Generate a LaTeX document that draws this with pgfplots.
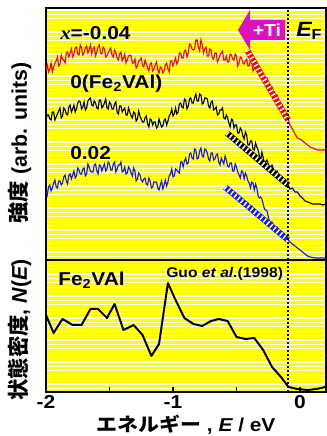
\documentclass[border=0pt]{standalone}
\usepackage{fontspec}
\setmainfont{Liberation Sans}[FakeStretch=1.12]
\newfontfamily\jp{Noto Sans CJK JP}[FakeStretch=1.12]
\newfontfamily\jprot{Noto Sans CJK JP}
\newfontfamily\sfrot{Liberation Sans}
\newfontfamily\tms{Liberation Serif}[FakeStretch=1.12]
\usepackage{pgfplots}
\pgfplotsset{compat=1.18}
\usepackage{pgfplotstable}

\definecolor{tiMag}{RGB}{221,17,190}
\definecolor{bandY}{RGB}{255,255,0}
\definecolor{specRed}{RGB}{255,0,0}
\definecolor{specBlue}{RGB}{20,20,255}

% photoemission spectra, x = -0.04
\pgfplotstableread{
E I
-2.00 189
-1.99 195
-1.98 188
-1.97 191
-1.96 197
-1.95 188
-1.94 193
-1.93 197
-1.92 199
-1.91 203
-1.90 194
-1.89 196
-1.88 205
-1.87 201
-1.86 200
-1.85 197
-1.84 207
-1.83 208
-1.82 203
-1.81 207
-1.80 211
-1.79 203
-1.78 206
-1.77 212
-1.76 213
-1.75 206
-1.74 205
-1.73 215
-1.72 212
-1.71 205
-1.70 207
-1.69 212
-1.68 214
-1.67 207
-1.66 210
-1.65 215
-1.64 206
-1.63 211
-1.62 213
-1.61 204
-1.60 208
-1.59 213
-1.58 215
-1.57 207
-1.56 206
-1.55 213
-1.54 211
-1.53 203
-1.52 204
-1.51 207
-1.50 210
-1.49 212
-1.48 205
-1.47 203
-1.46 210
-1.45 207
-1.44 202
-1.43 200
-1.42 206
-1.41 208
-1.40 199
-1.39 202
-1.38 206
-1.37 197
-1.36 200
-1.35 204
-1.34 205
-1.33 204
-1.32 197
-1.31 197
-1.30 201
-1.29 192
-1.28 194
-1.27 199
-1.26 200
-1.25 202
-1.24 195
-1.23 193
-1.22 200
-1.21 196
-1.20 192
-1.19 189
-1.18 196
-1.17 197
-1.16 189
-1.15 191
-1.14 195
-1.13 198
-1.12 190
-1.11 187
-1.10 193
-1.09 192
-1.08 187
-1.07 189
-1.06 195
-1.05 197
-1.04 191
-1.03 188
-1.02 199
-1.01 199
-1.00 194
-0.99 198
-0.98 202
-0.97 196
-0.96 199
-0.95 207
-0.94 207
-0.93 202
-0.92 202
-0.91 209
-0.90 210
-0.89 203
-0.88 207
-0.87 216
-0.86 215
-0.85 211
-0.84 210
-0.83 211
-0.82 220
-0.81 220
-0.80 213
-0.79 209
-0.78 220
-0.77 215
-0.76 207
-0.75 211
-0.74 213
-0.73 204
-0.72 204
-0.71 211
-0.70 210
-0.69 202
-0.68 201
-0.67 207
-0.66 207
-0.65 198
-0.64 201
-0.63 205
-0.62 207
-0.61 209
-0.60 200
-0.59 200
-0.58 204
-0.57 198
-0.56 198
-0.55 206
-0.54 205
-0.53 201
-0.52 200
-0.51 206
-0.50 204
-0.49 194
-0.48 197
-0.47 203
-0.46 202
-0.45 197
-0.44 196
-0.43 199
-0.42 201
-0.41 194
-0.40 194
-0.39 200
-0.38 197
-0.37 189
-0.36 192
-0.35 195
-0.34 195
-0.33 194
-0.32 187
-0.31 184
-0.30 188
-0.28 181
-0.26 182
-0.24 173
-0.22 173
-0.20 165
-0.18 165
-0.16 156
-0.14 155
-0.12 146
-0.10 144
-0.08 135
-0.06 131
-0.04 126
-0.02 122
0.00 121
0.02 119
0.04 117
0.06 115
0.08 113
0.10 112
0.12 111
0.14 110
0.16 110
0.18 110
0.20 110
}\specA

% x = 0 (Fe2VAl)
\pgfplotstableread{
E I
-2.00 141
-1.99 145
-1.98 145
-1.97 141
-1.96 140
-1.95 148
-1.94 148
-1.93 140
-1.92 143
-1.91 146
-1.90 149
-1.89 152
-1.88 142
-1.87 144
-1.86 152
-1.85 150
-1.84 146
-1.83 145
-1.82 153
-1.81 155
-1.80 148
-1.79 151
-1.78 155
-1.77 148
-1.76 151
-1.75 157
-1.74 159
-1.73 158
-1.72 151
-1.71 153
-1.70 158
-1.69 150
-1.68 152
-1.67 159
-1.66 161
-1.65 162
-1.64 155
-1.63 154
-1.62 159
-1.61 157
-1.60 152
-1.59 151
-1.58 160
-1.57 160
-1.56 152
-1.55 154
-1.54 157
-1.53 161
-1.52 152
-1.51 151
-1.50 158
-1.49 156
-1.48 151
-1.47 151
-1.46 156
-1.45 158
-1.44 148
-1.43 146
-1.42 154
-1.41 154
-1.40 148
-1.39 150
-1.38 152
-1.37 145
-1.36 145
-1.35 152
-1.34 148
-1.33 144
-1.32 142
-1.31 148
-1.30 147
-1.29 139
-1.28 141
-1.27 149
-1.26 144
-1.25 141
-1.24 138
-1.23 138
-1.22 142
-1.21 144
-1.20 136
-1.19 133
-1.18 141
-1.17 140
-1.16 135
-1.15 138
-1.14 138
-1.13 132
-1.12 133
-1.11 141
-1.10 137
-1.09 133
-1.08 134
-1.07 140
-1.06 141
-1.05 135
-1.04 139
-1.03 144
-1.02 146
-1.01 151
-1.00 144
-0.99 146
-0.98 152
-0.97 146
-0.96 148
-0.95 156
-0.94 157
-0.93 153
-0.92 152
-0.91 161
-0.90 160
-0.89 151
-0.88 154
-0.87 161
-0.86 162
-0.85 157
-0.84 157
-0.83 162
-0.82 166
-0.81 159
-0.80 159
-0.79 166
-0.78 165
-0.77 156
-0.76 157
-0.75 162
-0.74 162
-0.73 161
-0.72 154
-0.71 152
-0.70 158
-0.69 159
-0.68 150
-0.67 151
-0.66 153
-0.65 145
-0.64 146
-0.63 150
-0.62 150
-0.61 152
-0.60 142
-0.59 141
-0.58 145
-0.57 142
-0.56 137
-0.55 133
-0.54 141
-0.53 140
-0.52 132
-0.51 135
-0.50 135
-0.49 127
-0.48 127
-0.47 132
-0.46 130
-0.45 124
-0.44 121
-0.43 128
-0.42 125
-0.41 115
-0.40 115
-0.39 119
-0.38 119
-0.37 111
-0.36 110
-0.35 117
-0.34 113
-0.33 110
-0.32 104
-0.31 100
-0.30 108
-0.28 97
-0.26 100
-0.24 92
-0.22 95
-0.20 87
-0.18 89
-0.16 82
-0.14 83
-0.12 76
-0.10 77
-0.08 71
-0.06 72
-0.04 68
-0.02 68
0.00 64
0.02 62
0.04 59
0.06 58
0.08 57
0.10 56
0.12 56
0.14 56
0.16 56
0.18 55
0.20 56
}\specB

% x = 0.02
\pgfplotstableread{
E I
-2.00 69
-1.99 65
-1.98 73
-1.97 75
-1.96 69
-1.95 72
-1.94 77
-1.93 80
-1.92 73
-1.91 72
-1.90 79
-1.89 79
-1.88 75
-1.87 77
-1.86 83
-1.85 85
-1.84 79
-1.83 76
-1.82 85
-1.81 86
-1.80 81
-1.79 85
-1.78 89
-1.77 82
-1.76 84
-1.75 92
-1.74 90
-1.73 86
-1.72 86
-1.71 91
-1.70 92
-1.69 84
-1.68 86
-1.67 96
-1.66 93
-1.65 89
-1.64 88
-1.63 88
-1.62 95
-1.61 96
-1.60 89
-1.59 86
-1.58 95
-1.57 94
-1.56 89
-1.55 93
-1.54 96
-1.53 89
-1.52 91
-1.51 98
-1.50 96
-1.49 90
-1.48 90
-1.47 96
-1.46 98
-1.45 88
-1.44 91
-1.43 95
-1.42 95
-1.41 98
-1.40 88
-1.39 89
-1.38 93
-1.37 86
-1.36 87
-1.35 93
-1.34 91
-1.33 87
-1.32 84
-1.31 92
-1.30 89
-1.29 79
-1.28 81
-1.27 87
-1.26 85
-1.25 80
-1.24 78
-1.23 81
-1.22 82
-1.21 76
-1.20 75
-1.19 82
-1.18 79
-1.17 72
-1.16 73
-1.15 78
-1.14 78
-1.13 78
-1.12 72
-1.11 70
-1.10 75
-1.09 79
-1.08 71
-1.07 75
-1.06 80
-1.05 74
-1.04 78
-1.03 84
-1.02 86
-1.01 91
-1.00 83
-0.99 84
-0.98 91
-0.97 90
-0.96 88
-0.95 87
-0.94 98
-0.93 98
-0.92 93
-0.91 99
-0.90 102
-0.89 96
-0.88 97
-0.87 106
-0.86 107
-0.85 102
-0.84 101
-0.83 111
-0.82 110
-0.81 101
-0.80 102
-0.79 109
-0.78 112
-0.77 104
-0.76 103
-0.75 111
-0.74 110
-0.73 107
-0.72 101
-0.71 99
-0.70 107
-0.69 107
-0.68 100
-0.67 101
-0.66 105
-0.65 106
-0.64 98
-0.63 95
-0.62 102
-0.61 99
-0.60 96
-0.59 104
-0.58 100
-0.57 94
-0.56 93
-0.55 97
-0.54 97
-0.53 89
-0.52 89
-0.51 96
-0.50 93
-0.49 88
-0.48 85
-0.47 82
-0.46 89
-0.45 88
-0.44 81
-0.43 87
-0.42 84
-0.41 79
-0.40 77
-0.39 72
-0.38 78
-0.37 77
-0.36 70
-0.35 76
-0.34 72
-0.33 64
-0.32 62
-0.31 63
-0.30 61
-0.28 51
-0.26 49
-0.24 38
-0.22 38
-0.20 32
-0.18 33
-0.16 28
-0.14 28
-0.12 23
-0.10 22
-0.08 18
-0.06 16
-0.04 14
-0.02 12
0.00 10
0.02 8
0.04 6
0.06 4
0.08 3
0.10 2.5
0.12 2
0.14 2
0.16 2
0.18 2
0.20 2
}\specC

% calculated density of states
\pgfplotstableread{
E N
-2.00 77
-1.94 59
-1.87 73
-1.79 67
-1.72 67
-1.65 83
-1.59 83
-1.52 74
-1.46 88
-1.39 62
-1.31 67
-1.24 57
-1.17 36
-1.11 48
-1.04 109
-0.98 92
-0.91 74
-0.84 68
-0.77 66
-0.70 71
-0.64 73
-0.57 71
-0.50 55
-0.43 53
-0.36 54
-0.29 42
-0.22 25
-0.15 15
-0.09 5
-0.02 3
0.06 2
0.13 3
0.20 5
}\dos

\pgfplotsset{
  edge/.style={color=#1, line width=4.4pt, forget plot},
  edgehatch/.style={white, line width=3.6pt, dash pattern=on 1.1pt off 2.1pt, forget plot},
}

\begin{document}
\begin{tikzpicture}
\useasboundingbox (0pt,0pt) rectangle (245.25pt,327pt);

% striped yellow background behind both panels
\begin{scope}[yshift=327pt, x=0.75pt, y=-0.75pt]
  \fill[bandY] (46,8) rectangle (326,392);
  \foreach \k in {0,...,87} {
    \draw[white, line width=0.8pt] (46,{10+\k*4.4}) -- (326,{10+\k*4.4});
  }
\end{scope}

% upper panel: spectra
\begin{axis}[
  at={(34.5pt,132pt)}, anchor=south west,
  width=210pt, height=189pt, scale only axis,
  xmin=-2, xmax=0.2047, ymin=0, ymax=252,
  xtick=\empty, ytick=\empty,
  axis line style={line width=1.2pt},
]
  \addplot[specRed, line width=0.85pt] table[x=E,y=I] {\specA};
  \addplot[black, line width=0.85pt] table[x=E,y=I] {\specB};
  \addplot[specBlue, line width=0.85pt] table[x=E,y=I] {\specC};
  % leading-edge guides
  \addplot[edge=specRed] coordinates {(-0.417,210) (-0.094,140)};
  \addplot[edgehatch] coordinates {(-0.417,210) (-0.094,140)};
  \addplot[edge=black] coordinates {(-0.575,127) (-0.094,75)};
  \addplot[edgehatch] coordinates {(-0.575,127) (-0.094,75)};
  \addplot[edge=specBlue] coordinates {(-0.59,73) (-0.094,20)};
  \addplot[edgehatch] coordinates {(-0.59,73) (-0.094,20)};
  % Fermi level
  \addplot[black, line width=1.5pt, dash pattern=on 1.5pt off 1.5pt] coordinates {(-0.094,0) (-0.094,252)};
\end{axis}

% lower panel: density of states
\begin{axis}[
  at={(34.5pt,33pt)}, anchor=south west,
  width=210pt, height=99pt, scale only axis,
  xmin=-2, xmax=0.2047, ymin=0, ymax=132,
  xtick={-2,-1,0}, xticklabels={-2,-1,0},
  minor xtick={-1.5,-0.5},
  ytick=\empty, xtick pos=left, tick align=inside,
  major tick length=4pt, minor tick length=4pt,
  every tick/.style={black, line width=1pt},
  xticklabel style={font=\fontsize{14}{15}\selectfont\bfseries, yshift=1pt},
  axis line style={line width=1.2pt},
]
  \addplot[black, line width=1.5pt, line join=round] table[x=E,y=N] {\dos};
  \addplot[black, line width=1.5pt, dash pattern=on 1.5pt off 1.5pt] coordinates {(-0.094,0) (-0.094,132)};
\end{axis}

% labels and the +Ti arrow
\begin{scope}[yshift=327pt, x=0.75pt, y=-0.75pt]
  \fill[tiMag] (285,20) -- (250,20) -- (250,10) -- (238,30) -- (250,50) -- (250,40) -- (285,40) -- cycle;
  \node[white, font=\fontsize{13}{14}\selectfont\bfseries] at (267,30) {+Ti};
  \node[anchor=west, inner sep=0pt, font=\fontsize{15.5}{16}\selectfont\bfseries] at (296,31) {\itshape E\upshape\textsubscript{F}};
  \node[anchor=west, inner sep=0pt, font=\fontsize{14}{15}\selectfont\bfseries] at (60,33) {{\tms\itshape x}=-0.04};
  \node[anchor=west, inner sep=0pt, font=\fontsize{14}{15}\selectfont\bfseries] at (70,84) {0(Fe\textsubscript{2}VAl)};
  \node[anchor=west, inner sep=0pt, font=\fontsize{14}{15}\selectfont\bfseries] at (70,153) {0.02};
  \node[anchor=west, inner sep=0pt, font=\fontsize{14}{15}\selectfont\bfseries] at (58,280) {Fe\textsubscript{2}VAl};
  \node[anchor=west, inner sep=0pt, font=\fontsize{10.5}{12}\selectfont\bfseries] at (166,274) {Guo {\itshape et al.}(1998)};
  \node[rotate=90, font=\fontsize{16}{18}\selectfont\bfseries] at (20,143) {{\jprot 強度} {\sfrot (arb. units)}};
  \node[rotate=90, font=\fontsize{16}{18}\selectfont\bfseries] at (20,330) {{\jprot 状態密度}{\sfrot , {\itshape N}({\itshape E})}};
  \node[font=\fontsize{14}{16}\selectfont\bfseries] at (186,425) {{\jp エネルギー} , {\itshape E} / eV};
\end{scope}
\end{tikzpicture}
\end{document}
